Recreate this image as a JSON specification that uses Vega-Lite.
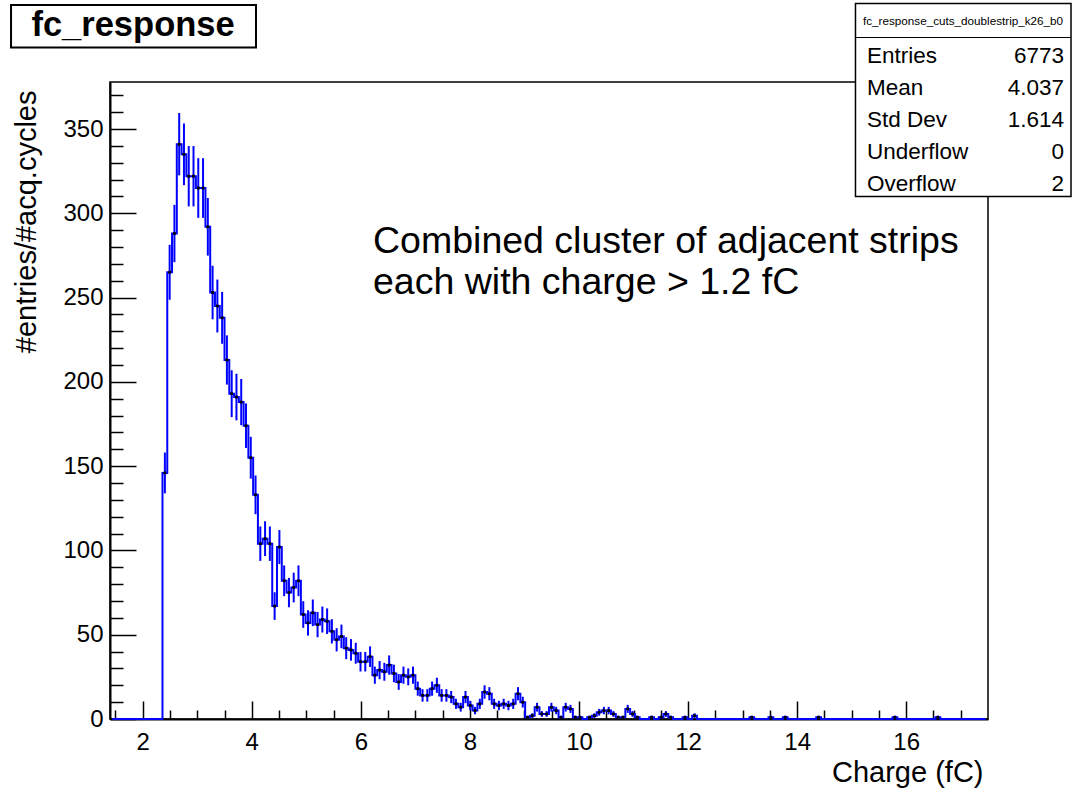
{
  "$schema": "https://vega.github.io/schema/vega-lite/v6.json",
  "width": 878,
  "height": 637,
  "autosize": {"type": "none"},
  "padding": {"left": 110, "top": 82, "right": 86, "bottom": 69},
  "background": "white",
  "config": {
    "view": {"stroke": "black", "strokeWidth": 1.5},
    "font": "Liberation Sans",
    "text": {"font": "Liberation Sans", "color": "black"}
  },
  "datasets": {
    "fc_response": [
      {"charge": 1.44375, "entries": 0, "err": 0},
      {"charge": 1.53125, "entries": 0, "err": 0},
      {"charge": 1.61875, "entries": 0, "err": 0},
      {"charge": 1.70625, "entries": 0, "err": 0},
      {"charge": 1.79375, "entries": 0, "err": 0},
      {"charge": 1.88125, "entries": 0, "err": 0},
      {"charge": 1.96875, "entries": 0, "err": 0},
      {"charge": 2.05625, "entries": 0, "err": 0},
      {"charge": 2.14375, "entries": 0, "err": 0},
      {"charge": 2.23125, "entries": 0, "err": 0},
      {"charge": 2.31875, "entries": 0, "err": 0},
      {"charge": 2.40625, "entries": 146, "err": 12.1},
      {"charge": 2.49375, "entries": 265, "err": 16.3},
      {"charge": 2.58125, "entries": 288, "err": 17.0},
      {"charge": 2.66875, "entries": 341, "err": 18.5},
      {"charge": 2.75625, "entries": 335, "err": 18.3},
      {"charge": 2.84375, "entries": 322, "err": 17.9},
      {"charge": 2.93125, "entries": 322, "err": 17.9},
      {"charge": 3.01875, "entries": 315, "err": 17.7},
      {"charge": 3.10625, "entries": 315, "err": 17.7},
      {"charge": 3.19375, "entries": 292, "err": 17.1},
      {"charge": 3.28125, "entries": 253, "err": 15.9},
      {"charge": 3.36875, "entries": 245, "err": 15.7},
      {"charge": 3.45625, "entries": 238, "err": 15.4},
      {"charge": 3.54375, "entries": 213, "err": 14.6},
      {"charge": 3.63125, "entries": 193, "err": 13.9},
      {"charge": 3.71875, "entries": 191, "err": 13.8},
      {"charge": 3.80625, "entries": 188, "err": 13.7},
      {"charge": 3.89375, "entries": 174, "err": 13.2},
      {"charge": 3.98125, "entries": 155, "err": 12.4},
      {"charge": 4.06875, "entries": 133, "err": 11.5},
      {"charge": 4.15625, "entries": 104, "err": 10.2},
      {"charge": 4.24375, "entries": 107, "err": 10.3},
      {"charge": 4.33125, "entries": 104, "err": 10.2},
      {"charge": 4.41875, "entries": 67, "err": 8.2},
      {"charge": 4.50625, "entries": 102, "err": 10.1},
      {"charge": 4.59375, "entries": 82, "err": 9.1},
      {"charge": 4.68125, "entries": 75, "err": 8.7},
      {"charge": 4.76875, "entries": 78, "err": 8.8},
      {"charge": 4.85625, "entries": 82, "err": 9.1},
      {"charge": 4.94375, "entries": 62, "err": 7.9},
      {"charge": 5.03125, "entries": 57, "err": 7.5},
      {"charge": 5.11875, "entries": 63, "err": 7.9},
      {"charge": 5.20625, "entries": 56, "err": 7.5},
      {"charge": 5.29375, "entries": 59, "err": 7.7},
      {"charge": 5.38125, "entries": 58, "err": 7.6},
      {"charge": 5.46875, "entries": 52, "err": 7.2},
      {"charge": 5.55625, "entries": 47, "err": 6.9},
      {"charge": 5.64375, "entries": 49, "err": 7.0},
      {"charge": 5.73125, "entries": 42, "err": 6.5},
      {"charge": 5.81875, "entries": 41, "err": 6.4},
      {"charge": 5.90625, "entries": 39, "err": 6.2},
      {"charge": 5.99375, "entries": 34, "err": 5.8},
      {"charge": 6.08125, "entries": 34, "err": 5.8},
      {"charge": 6.16875, "entries": 37, "err": 6.1},
      {"charge": 6.25625, "entries": 26, "err": 5.1},
      {"charge": 6.34375, "entries": 29, "err": 5.4},
      {"charge": 6.43125, "entries": 28, "err": 5.3},
      {"charge": 6.51875, "entries": 32, "err": 5.7},
      {"charge": 6.60625, "entries": 27, "err": 5.2},
      {"charge": 6.69375, "entries": 22, "err": 4.7},
      {"charge": 6.78125, "entries": 26, "err": 5.1},
      {"charge": 6.86875, "entries": 25, "err": 5.0},
      {"charge": 6.95625, "entries": 26, "err": 5.1},
      {"charge": 7.04375, "entries": 18, "err": 4.2},
      {"charge": 7.13125, "entries": 14, "err": 3.7},
      {"charge": 7.21875, "entries": 14, "err": 3.7},
      {"charge": 7.30625, "entries": 18, "err": 4.2},
      {"charge": 7.39375, "entries": 20, "err": 4.5},
      {"charge": 7.48125, "entries": 14, "err": 3.7},
      {"charge": 7.56875, "entries": 14, "err": 3.7},
      {"charge": 7.65625, "entries": 13, "err": 3.6},
      {"charge": 7.74375, "entries": 9, "err": 3.0},
      {"charge": 7.83125, "entries": 7, "err": 2.6},
      {"charge": 7.91875, "entries": 13, "err": 3.6},
      {"charge": 8.00625, "entries": 8, "err": 2.8},
      {"charge": 8.09375, "entries": 5, "err": 2.2},
      {"charge": 8.18125, "entries": 9, "err": 3.0},
      {"charge": 8.26875, "entries": 16, "err": 4.0},
      {"charge": 8.35625, "entries": 15, "err": 3.9},
      {"charge": 8.44375, "entries": 9, "err": 3.0},
      {"charge": 8.53125, "entries": 8, "err": 2.8},
      {"charge": 8.61875, "entries": 9, "err": 3.0},
      {"charge": 8.70625, "entries": 8, "err": 2.8},
      {"charge": 8.79375, "entries": 9, "err": 3.0},
      {"charge": 8.88125, "entries": 15, "err": 3.9},
      {"charge": 8.96875, "entries": 10, "err": 3.2},
      {"charge": 9.05625, "entries": 1, "err": 1.0},
      {"charge": 9.14375, "entries": 2, "err": 1.4},
      {"charge": 9.23125, "entries": 7, "err": 2.6},
      {"charge": 9.31875, "entries": 3, "err": 1.7},
      {"charge": 9.40625, "entries": 3, "err": 1.7},
      {"charge": 9.49375, "entries": 7, "err": 2.6},
      {"charge": 9.58125, "entries": 5, "err": 2.2},
      {"charge": 9.66875, "entries": 1, "err": 1.0},
      {"charge": 9.75625, "entries": 7, "err": 2.6},
      {"charge": 9.84375, "entries": 6, "err": 2.4},
      {"charge": 9.93125, "entries": 1, "err": 1.0},
      {"charge": 10.01875, "entries": 1, "err": 1.0},
      {"charge": 10.10625, "entries": 0, "err": 0},
      {"charge": 10.19375, "entries": 1, "err": 1.0},
      {"charge": 10.28125, "entries": 2, "err": 1.4},
      {"charge": 10.36875, "entries": 4, "err": 2.0},
      {"charge": 10.45625, "entries": 5, "err": 2.2},
      {"charge": 10.54375, "entries": 5, "err": 2.2},
      {"charge": 10.63125, "entries": 3, "err": 1.7},
      {"charge": 10.71875, "entries": 1, "err": 1.0},
      {"charge": 10.80625, "entries": 1, "err": 1.0},
      {"charge": 10.89375, "entries": 6, "err": 2.4},
      {"charge": 10.98125, "entries": 3, "err": 1.7},
      {"charge": 11.06875, "entries": 1, "err": 1.0},
      {"charge": 11.15625, "entries": 0, "err": 0},
      {"charge": 11.24375, "entries": 0, "err": 0},
      {"charge": 11.33125, "entries": 1, "err": 1.0},
      {"charge": 11.41875, "entries": 0, "err": 0},
      {"charge": 11.50625, "entries": 1, "err": 1.0},
      {"charge": 11.59375, "entries": 3, "err": 1.7},
      {"charge": 11.68125, "entries": 1, "err": 1.0},
      {"charge": 11.76875, "entries": 0, "err": 0},
      {"charge": 11.85625, "entries": 0, "err": 0},
      {"charge": 11.94375, "entries": 1, "err": 1.0},
      {"charge": 12.03125, "entries": 0, "err": 0},
      {"charge": 12.11875, "entries": 2, "err": 1.4},
      {"charge": 12.20625, "entries": 0, "err": 0},
      {"charge": 12.29375, "entries": 0, "err": 0},
      {"charge": 12.38125, "entries": 0, "err": 0},
      {"charge": 12.46875, "entries": 0, "err": 0},
      {"charge": 12.55625, "entries": 0, "err": 0},
      {"charge": 12.64375, "entries": 0, "err": 0},
      {"charge": 12.73125, "entries": 0, "err": 0},
      {"charge": 12.81875, "entries": 0, "err": 0},
      {"charge": 12.90625, "entries": 0, "err": 0},
      {"charge": 12.99375, "entries": 0, "err": 0},
      {"charge": 13.08125, "entries": 0, "err": 0},
      {"charge": 13.16875, "entries": 1, "err": 1.0},
      {"charge": 13.25625, "entries": 0, "err": 0},
      {"charge": 13.34375, "entries": 0, "err": 0},
      {"charge": 13.43125, "entries": 0, "err": 0},
      {"charge": 13.51875, "entries": 1, "err": 1.0},
      {"charge": 13.60625, "entries": 0, "err": 0},
      {"charge": 13.69375, "entries": 0, "err": 0},
      {"charge": 13.78125, "entries": 1, "err": 1.0},
      {"charge": 13.86875, "entries": 0, "err": 0},
      {"charge": 13.95625, "entries": 0, "err": 0},
      {"charge": 14.04375, "entries": 0, "err": 0},
      {"charge": 14.13125, "entries": 0, "err": 0},
      {"charge": 14.21875, "entries": 0, "err": 0},
      {"charge": 14.30625, "entries": 0, "err": 0},
      {"charge": 14.39375, "entries": 1, "err": 1.0},
      {"charge": 14.48125, "entries": 0, "err": 0},
      {"charge": 14.56875, "entries": 0, "err": 0},
      {"charge": 14.65625, "entries": 0, "err": 0},
      {"charge": 14.74375, "entries": 0, "err": 0},
      {"charge": 14.83125, "entries": 0, "err": 0},
      {"charge": 14.91875, "entries": 0, "err": 0},
      {"charge": 15.00625, "entries": 0, "err": 0},
      {"charge": 15.09375, "entries": 0, "err": 0},
      {"charge": 15.18125, "entries": 0, "err": 0},
      {"charge": 15.26875, "entries": 0, "err": 0},
      {"charge": 15.35625, "entries": 0, "err": 0},
      {"charge": 15.44375, "entries": 0, "err": 0},
      {"charge": 15.53125, "entries": 0, "err": 0},
      {"charge": 15.61875, "entries": 0, "err": 0},
      {"charge": 15.70625, "entries": 0, "err": 0},
      {"charge": 15.79375, "entries": 1, "err": 1.0},
      {"charge": 15.88125, "entries": 0, "err": 0},
      {"charge": 15.96875, "entries": 0, "err": 0},
      {"charge": 16.05625, "entries": 0, "err": 0},
      {"charge": 16.14375, "entries": 0, "err": 0},
      {"charge": 16.23125, "entries": 0, "err": 0},
      {"charge": 16.31875, "entries": 0, "err": 0},
      {"charge": 16.40625, "entries": 0, "err": 0},
      {"charge": 16.49375, "entries": 0, "err": 0},
      {"charge": 16.58125, "entries": 1, "err": 1.0},
      {"charge": 16.66875, "entries": 0, "err": 0},
      {"charge": 16.75625, "entries": 0, "err": 0},
      {"charge": 16.84375, "entries": 0, "err": 0},
      {"charge": 16.93125, "entries": 0, "err": 0},
      {"charge": 17.01875, "entries": 0, "err": 0},
      {"charge": 17.10625, "entries": 0, "err": 0},
      {"charge": 17.19375, "entries": 0, "err": 0},
      {"charge": 17.28125, "entries": 0, "err": 0},
      {"charge": 17.36875, "entries": 0, "err": 0},
      {"charge": 17.45625, "entries": 0, "err": 0}
    ],
    "fc_stats": [
      {"stat": "Entries", "value": "6773"},
      {"stat": "Mean", "value": "4.037"},
      {"stat": "Std Dev", "value": "1.614"},
      {"stat": "Underflow", "value": "0"},
      {"stat": "Overflow", "value": "2"}
    ]
  },
  "layer": [
    {
      "data": {"name": "fc_response"},
      "encoding": {
        "x": {
          "field": "charge",
          "type": "quantitative",
          "scale": {"domain": [1.4, 17.5], "nice": false, "zero": false},
          "axis": {
            "values": [1.5, 2, 2.5, 3, 3.5, 4, 4.5, 5, 5.5, 6, 6.5, 7, 7.5, 8, 8.5, 9, 9.5, 10, 10.5, 11, 11.5, 12, 12.5, 13, 13.5, 14, 14.5, 15, 15.5, 16, 16.5, 17],
            "labelExpr": "datum.value % 2 === 0 ? format(datum.value, 'd') : ''",
            "labelFont": "Liberation Sans",
            "labelFontSize": 24,
            "labelColor": "black",
            "labelPadding": 29,
            "labelOverlap": false,
            "labelFlush": false,
            "labelBound": false,
            "tickColor": "black",
            "tickWidth": 1.5,
            "tickSize": {"condition": {"test": "datum.value % 2 === 0", "value": -18}, "value": -9},
            "domainColor": "black",
            "domainWidth": 2,
            "grid": false,
            "title": "Charge (fC)",
            "titleFont": "Liberation Sans",
            "titleFontSize": 29,
            "titleFontWeight": "normal",
            "titleColor": "black",
            "titleAnchor": "end",
            "titleAlign": "right",
            "titleBaseline": "middle",
            "titleX": 873,
            "titleY": 53
          }
        },
        "y": {
          "field": "entries",
          "type": "quantitative",
          "scale": {"domain": [0, 377.9], "nice": false},
          "axis": {
            "values": [0, 10, 20, 30, 40, 50, 60, 70, 80, 90, 100, 110, 120, 130, 140, 150, 160, 170, 180, 190, 200, 210, 220, 230, 240, 250, 260, 270, 280, 290, 300, 310, 320, 330, 340, 350, 360, 370],
            "labelExpr": "datum.value % 50 === 0 ? format(datum.value, 'd') : ''",
            "labelFont": "Liberation Sans",
            "labelFontSize": 24,
            "labelColor": "black",
            "labelPadding": 33,
            "labelOverlap": false,
            "labelFlush": false,
            "labelBound": false,
            "tickColor": "black",
            "tickWidth": 1.5,
            "tickSize": {"condition": {"test": "datum.value % 50 === 0", "value": -26}, "value": -13},
            "domainColor": "black",
            "domainWidth": 2,
            "grid": false,
            "title": "#entries/#acq.cycles",
            "titleFont": "Liberation Sans",
            "titleFontSize": 29,
            "titleFontWeight": "normal",
            "titleColor": "black",
            "titleAnchor": "end",
            "titleAngle": -90,
            "titleAlign": "right",
            "titleBaseline": "middle",
            "titleX": -84,
            "titleY": 8
          }
        }
      },
      "layer": [
        {
          "transform": [{"filter": "datum.entries > 0"}],
          "mark": {"type": "errorbar", "ticks": false, "color": "#0000ff", "thickness": 2},
          "encoding": {"yError": {"field": "err"}}
        },
        {
          "mark": {"type": "line", "interpolate": "step", "color": "#0000ff", "strokeWidth": 2}
        },
        {
          "transform": [{"filter": "datum.entries > 0"}],
          "mark": {"type": "square", "color": "black", "filled": true, "size": 8, "opacity": 1}
        }
      ]
    },
    {
      "layer": [
        {
          "data": {"values": [{}]},
          "mark": {"type": "rect", "fill": "white", "stroke": "black", "strokeWidth": 2},
          "encoding": {
            "x": {"datum": -0.415, "type": "quantitative", "scale": {"domain": [1.4, 17.5], "nice": false, "zero": false}, "axis": null},
            "x2": {"datum": 4.077},
            "y": {"datum": -0.578125, "type": "quantitative", "scale": {"domain": [1.828125, 21.734375], "reverse": true, "nice": false, "zero": false}, "axis": null},
            "y2": {"datum": 0.75}
          }
        },
        {
          "data": {"values": [{}]},
          "mark": {"type": "text", "align": "center", "baseline": "middle", "fontSize": 34.5, "fontWeight": "bold", "color": "black"},
          "encoding": {
            "x": {"datum": 1.822, "type": "quantitative", "axis": null},
            "y": {"datum": 0.078125, "type": "quantitative", "axis": null},
            "text": {"value": "fc_response"}
          }
        },
        {
          "data": {"values": [{}]},
          "mark": {"type": "text", "align": "left", "baseline": "middle", "fontSize": 37.5, "color": "black"},
          "encoding": {
            "x": {"datum": 6.223, "type": "quantitative", "axis": null},
            "y": {"datum": 6.828125, "type": "quantitative", "axis": null},
            "text": {"value": "Combined cluster of adjacent strips"}
          }
        },
        {
          "data": {"values": [{}]},
          "mark": {"type": "text", "align": "left", "baseline": "middle", "fontSize": 37.5, "color": "black"},
          "encoding": {
            "x": {"datum": 6.223, "type": "quantitative", "axis": null},
            "y": {"datum": 8.109375, "type": "quantitative", "axis": null},
            "text": {"value": "each with charge > 1.2 fC"}
          }
        },
        {
          "data": {"values": [{}]},
          "mark": {"type": "rect", "fill": "white", "stroke": "black", "strokeWidth": 1.5},
          "encoding": {
            "x": {"datum": 15.07, "type": "quantitative", "axis": null},
            "x2": {"datum": 19.022},
            "y": {"datum": -0.625, "type": "quantitative", "axis": null},
            "y2": {"datum": 5.40625}
          }
        },
        {
          "data": {"values": [{}]},
          "mark": {"type": "rule", "color": "black", "strokeWidth": 1},
          "encoding": {
            "x": {"datum": 15.07, "type": "quantitative", "axis": null},
            "x2": {"datum": 19.022},
            "y": {"datum": 0.4375, "type": "quantitative", "axis": null}
          }
        },
        {
          "data": {"values": [{}]},
          "mark": {"type": "text", "align": "center", "baseline": "middle", "fontSize": 11.7, "color": "black"},
          "encoding": {
            "x": {"datum": 17.042, "type": "quantitative", "axis": null},
            "y": {"datum": -0.09375, "type": "quantitative", "axis": null},
            "text": {"value": "fc_response_cuts_doublestrip_k26_b0"}
          }
        },
        {
          "data": {"name": "fc_stats"},
          "transform": [{"window": [{"op": "row_number", "as": "row"}]}],
          "mark": {"type": "text", "align": "left", "baseline": "middle", "fontSize": 22.5, "color": "black"},
          "encoding": {
            "x": {"datum": 15.281, "type": "quantitative", "axis": null},
            "y": {"field": "row", "type": "quantitative", "axis": null},
            "text": {"field": "stat"}
          }
        },
        {
          "data": {"name": "fc_stats"},
          "transform": [{"window": [{"op": "row_number", "as": "row"}]}],
          "mark": {"type": "text", "align": "right", "baseline": "middle", "fontSize": 22.5, "color": "black"},
          "encoding": {
            "x": {"datum": 18.894, "type": "quantitative", "axis": null},
            "y": {"field": "row", "type": "quantitative", "axis": null},
            "text": {"field": "value"}
          }
        }
      ]
    }
  ],
  "resolve": {"scale": {"x": "independent", "y": "independent"}}
}
